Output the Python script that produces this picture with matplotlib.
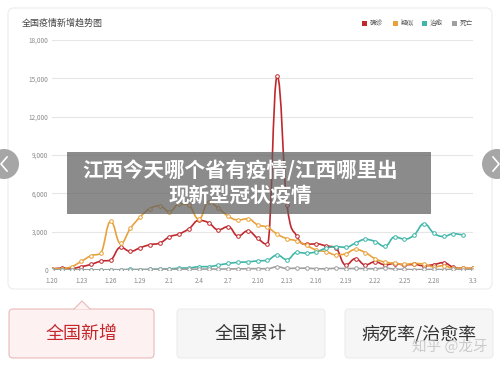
import numpy as np
import matplotlib
matplotlib.use('Agg')
import matplotlib.pyplot as plt
from matplotlib.path import Path
from matplotlib.patches import PathPatch, FancyBboxPatch, Circle, Rectangle, Polygon
from matplotlib.lines import Line2D
from matplotlib.transforms import IdentityTransform

plt.rcParams['font.family'] = ['Noto Sans CJK SC', 'DejaVu Sans']

# data, 1.20 - 3.3
dates = (['1.%d' % d for d in range(20, 32)] +
         ['2.%d' % d for d in range(1, 30)] +
         ['3.%d' % d for d in range(1, 4)])
confirmed = [77, 149, 131, 259, 444, 688, 769, 1771, 1459, 1737, 1982, 2102,
             2590, 2829, 3235, 3887, 3694, 3143, 3399, 2656, 3062, 2478, 2015,
             15152, 5090, 2641, 2009, 2048, 1886, 1749, 394, 889, 397, 648, 409,
             508, 406, 433, 327, 427, 573, 202, 125, 119]
suspected = [80, 100, 257, 680, 1118, 1309, 3806, 2077, 3248, 4148, 4812, 5019,
             4562, 5173, 5072, 3971, 5328, 4833, 4214, 3916, 4008, 3536, 3342,
             2807, 2450, 2277, 1918, 1563, 1432, 1185, 1277, 1614, 1361, 882, 620,
             530, 439, 508, 452, 248, 335, 132, 141, 129]
cured = [0, 0, 3, 6, 4, 11, 2, 9, 43, 21, 47, 72, 85, 147, 157, 260, 261, 387,
         510, 599, 632, 715, 744, 1171, 812, 1373, 1323, 1425, 1708, 1824, 1779,
         2109, 2395, 2229, 1846, 2589, 2422, 2750, 3622, 2885, 2623, 2837, 2742]
deaths = [3, 3, 8, 8, 16, 15, 24, 26, 26, 38, 43, 46, 45, 57, 64, 65, 73, 73, 86,
          89, 97, 108, 97, 254, 121, 143, 142, 105, 98, 136, 114, 118, 109, 97,
          150, 71, 52, 29, 44, 47, 35, 42, 31, 38]
series_names = ['确诊', '疑似', '治愈', '死亡']
colors = ['#c0282d', '#e9a23b', '#3fb6a8', '#a0a0a0']
xtick_idx = [0, 3, 6, 9, 12, 15, 18, 21, 24, 27, 30, 33, 36, 39, 43]
yticks = [0, 3000, 6000, 9000, 12000, 15000, 18000]

W, H = 500, 367
fig = plt.figure(figsize=(5, 3.67), dpi=100)
fig.patch.set_facecolor('white')
ident = IdentityTransform()


def fy(y):
    return 1 - y / H


def rbox(x0, y0, x1, y1, r, **kw):
    p = FancyBboxPatch((x0 + r, H - y1 + r), x1 - x0 - 2 * r, y1 - y0 - 2 * r,
                       boxstyle='round,pad=%g,rounding_size=%g' % (r, r),
                       transform=ident, **kw)
    fig.add_artist(p)
    return p


def smooth_path(xs, ys, k=0.22):
    pts = np.column_stack([xs, ys]).astype(float)
    n = len(pts)
    tan = np.zeros_like(pts)
    for i in range(n):
        a = pts[max(i - 1, 0)]
        b = pts[min(i + 1, n - 1)]
        tan[i] = (b - a) * k
        if 0 < i < n - 1:
            if (pts[i, 1] - a[1]) * (b[1] - pts[i, 1]) <= 0:
                tan[i, 1] = 0
    verts = [pts[0]]
    codes = [Path.MOVETO]
    for i in range(n - 1):
        p1, p2 = pts[i], pts[i + 1]
        c1 = p1 + tan[i]
        c2 = p2 - tan[i + 1]
        lo, hi = min(p1[1], p2[1]), max(p1[1], p2[1])
        c1[1] = np.clip(c1[1], lo, hi)
        c2[1] = np.clip(c2[1], lo, hi)
        verts += [c1, c2, p2]
        codes += [Path.CURVE4] * 3
    return Path(verts, codes)


# card
rbox(8, 8, 492, 289, 6, fc='white', ec='#ececec', lw=0.8, zorder=0)
fig.text(22 / W, fy(23), '全国疫情新增趋势图', fontsize=6.5, va='center',
         color='#444444')

# legend
for name, c, lx in zip(series_names, colors, [364, 395, 424, 454]):
    fig.add_artist(Rectangle((lx - 2.5, H - 23 - 2.5), 5, 5, transform=ident,
                             fc=c, ec='none'))
    fig.text((lx + 6) / W, fy(23), name, fontsize=4.8, va='center',
             color='#555555')

ax = fig.add_axes([52 / W, 1 - 270 / H, 421 / W, 230 / H])
ax.patch.set_alpha(0)
for s in ax.spines.values():
    s.set_visible(False)
ax.set_xlim(0, 43)
ax.set_ylim(0, 18000)
ax.set_yticks(yticks)
ax.set_yticklabels(['{:,}'.format(v) for v in yticks])
ax.set_xticks(xtick_idx)
ax.set_xticklabels([dates[i] for i in xtick_idx])
ax.tick_params(length=0, labelsize=4.6, colors='#8a8a8a')
ax.tick_params(axis='y', pad=3)
ax.tick_params(axis='x', pad=5)
ax.grid(axis='y', color='#e6e6e6', lw=0.8)
ax.set_axisbelow(True)

for vals, c in zip([confirmed, suspected, cured, deaths], colors):
    x = np.arange(len(vals))
    ax.add_patch(PathPatch(smooth_path(x, vals), fill=False, ec=c, lw=1.2,
                           zorder=3))
    ax.plot(x, vals, ls='none', marker='o', ms=2.6, mfc='white', mec=c,
            mew=0.7, zorder=4)

# nav buttons
for cx, tip, arm in [(4, 1, 7), (497, 499, 493)]:
    fig.add_artist(Circle((cx, H - 164), 15, transform=ident, fc='#a6a6a6',
                          ec='none', zorder=5))
    fig.add_artist(Line2D([arm, tip, arm], [H - 157, H - 164, H - 171],
                          transform=ident, color='white', lw=1.2, zorder=6))

# overlay caption
fig.add_artist(Rectangle((67, H - 214), 364, 62, transform=ident,
                         fc='#5f5f5f', alpha=0.72, ec='none', zorder=5))
fig.text(240 / W, fy(171), '江西今天哪个省有疫情/江西哪里出', fontsize=14.8,
         ha='center', va='center', color='white', fontweight='bold', zorder=6)
fig.text(240 / W, fy(195), '现新型冠状疫情', fontsize=14.8,
         ha='center', va='center', color='white', fontweight='bold', zorder=6)

# bottom tabs
rbox(9, 309, 154, 358, 4, fc='#fdf1f1', ec='#eab9b9', lw=0.8, zorder=1)
fig.add_artist(Polygon([(74, H - 309.4), (82, H - 301), (90, H - 309.4)],
                       transform=ident, fc='#fdf1f1', ec='none', zorder=2))
fig.add_artist(Line2D([74, 82, 90], [H - 309, H - 301, H - 309],
                      transform=ident, color='#eab9b9', lw=0.8, zorder=2))
rbox(177, 309, 325, 358, 4, fc='#f6f6f6', ec='#ececec', lw=0.8, zorder=1)
rbox(345, 309, 493, 358, 4, fc='#f6f6f6', ec='#ececec', lw=0.8, zorder=1)
fig.text(82 / W, fy(334), '全国新增', fontsize=13, ha='center', va='center',
         color='#c4282d', zorder=3)
fig.text(251 / W, fy(334), '全国累计', fontsize=13, ha='center', va='center',
         color='#333333', zorder=3)
fig.text(419 / W, fy(334), '病死率/治愈率', fontsize=13, ha='center',
         va='center', color='#333333', zorder=3)
fig.text(450 / W, fy(347), '知乎 @龙牙', fontsize=10.5, ha='center',
         va='center', color='#c4c4c4', alpha=0.85, zorder=4)

fig.savefig('out.png', dpi=100)
